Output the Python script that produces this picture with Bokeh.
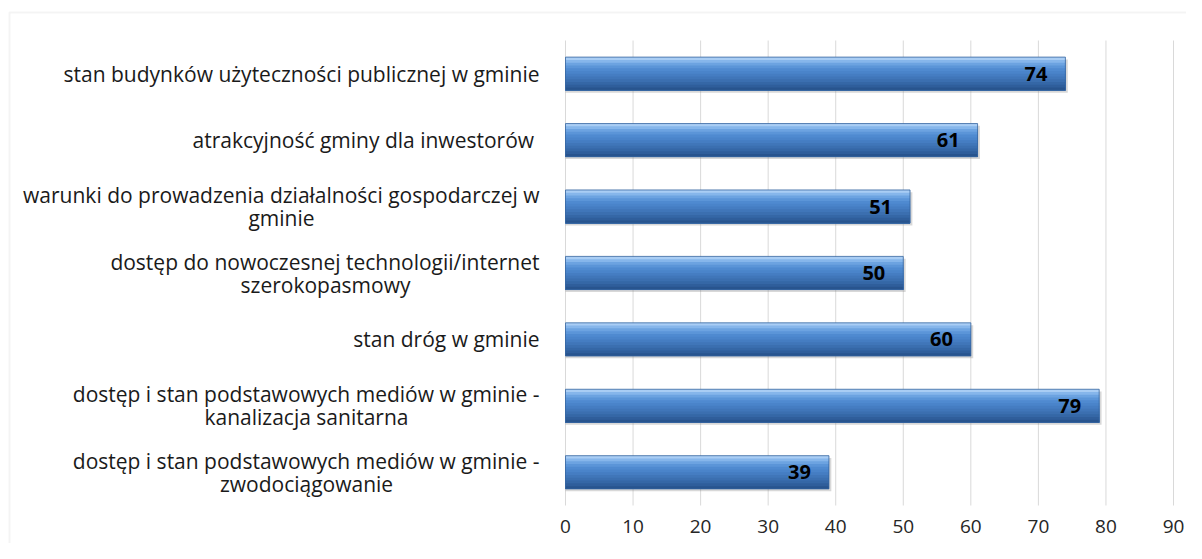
from bokeh.plotting import figure
from bokeh.models import Range1d, BoxAnnotation
from bokeh.core.properties import value
from bokeh.embed import file_html
from bokeh.resources import INLINE

# ---------------- data ----------------
categories = [
    "stan budynków użyteczności publicznej w gminie",
    "atrakcyjność gminy dla inwestorów ",
    "warunki do prowadzenia działalności gospodarczej w gminie",
    "dostęp do nowoczesnej technologii/internet szerokopasmowy",
    "stan dróg w gminie",
    "dostęp i stan podstawowych mediów w gminie - kanalizacja sanitarna",
    "dostęp i stan podstawowych mediów w gminie - zwodociągowanie",
]
label_line1 = [
    "stan budynków użyteczności publicznej w gminie",
    "atrakcyjność gminy dla inwestorów ",
    "warunki do prowadzenia działalności gospodarczej w",
    "dostęp do nowoczesnej technologii/internet",
    "stan dróg w gminie",
    "dostęp i stan podstawowych mediów w gminie -",
    "dostęp i stan podstawowych mediów w gminie -",
]
label_line2 = ["", "", "gminie", "szerokopasmowy", "", "kanalizacja sanitarna", "zwodociągowanie"]
values = [74, 61, 51, 50, 60, 79, 39]
x_ticks = [0, 10, 20, 30, 40, 50, 60, 70, 80, 90]

# ---------------- layout constants (screen px) ----------------
FONT = "Open Sans"
LABEL_SIZE = "21px"
W, H = 1186, 543
X0_PX = 565          # where value 0 sits, from canvas left
X90_PX = 1173        # where value 90 sits
GRID_TOP = 40        # top of category band area, from canvas top
GRID_BOT = 505       # bottom of category band area
BORDER_LEFT = 9
BORDER_TOP = 12
LABEL_GAP = 26
LINE_HALF = 11.5
TICK_LABEL_OFFSET = 21
# approximate widths of first lines of wrapped labels (for centring second lines)
LINE1_W = [0, 0, 516, 428, 0, 466, 466]

n = len(categories)
kx = (X90_PX - X0_PX) / (x_ticks[-1] - x_ticks[0])
x_start = -X0_PX / kx
x_end = x_start + W / kx
ky = (GRID_BOT - GRID_TOP) / n
y_top_band = n - 0.5
y_bot_band = -0.5
y_end = y_top_band + GRID_TOP / ky
y_start = y_bot_band - (H - GRID_BOT) / ky

ypos = [n - 1 - i for i in range(n)]

p = figure(width=W, height=H, x_range=Range1d(x_start, x_end), y_range=Range1d(y_start, y_end),
           output_backend="svg", toolbar_location=None,
           min_border_left=0, min_border_right=0, min_border_top=0, min_border_bottom=0)
p.axis.visible = False
p.grid.visible = False
p.outline_line_color = None
p.background_fill_color = "white"
p.border_fill_color = "white"

# chart border (left and top visible in the crop)
p.add_layout(BoxAnnotation(left=x_start + BORDER_LEFT / kx, right=x_end + 50,
                           top=y_end - BORDER_TOP / ky, bottom=y_start - 50,
                           fill_color=None, line_color="#d9d9d9", line_width=2))

# vertical gridlines
p.segment(x0=x_ticks, x1=x_ticks, y0=[y_bot_band] * len(x_ticks), y1=[y_top_band] * len(x_ticks),
          line_color="#d9d9d9", line_width=1)

# tick labels
p.text(x=x_ticks, y=[y_bot_band] * len(x_ticks), text=[str(t) for t in x_ticks],
       y_offset=TICK_LABEL_OFFSET, text_align="center", text_baseline="middle",
       text_font=value(FONT), text_font_size="19px", text_color="#262626")

BAR_H = 0.5
# drop shadow
p.hbar(y=[y - 0.035 for y in ypos], right=[v + 0.35 for v in values], left=0, height=BAR_H,
       fill_color="#7f7f7f", fill_alpha=0.3, line_color=None)
# gradient stripes (top -> bottom), each painted from its top to the bar bottom
stripes = ["#a9cdf4", "#86b6eb", "#6ca3e1", "#5b95d8", "#4f8ad0", "#4a84ca", "#457dc2",
           "#4076b9", "#3b6fb0", "#3567a6", "#2f5e9b", "#28548e"]
ns = len(stripes)
sh = BAR_H / ns
for i, col in enumerate(stripes):
    top = BAR_H / 2 - sh * i
    hh = BAR_H - sh * i
    p.hbar(y=[y + top - hh / 2 for y in ypos], right=values, left=0, height=hh,
           fill_color=col, line_color=None)
# outline
p.hbar(y=ypos, right=values, left=0, height=BAR_H,
       fill_color=None, line_color="#3565a0", line_width=0.8)

# value labels
p.text(x=values, y=ypos, text=[str(v) for v in values], x_offset=-18,
       text_align="right", text_baseline="middle",
       text_font=value(FONT), text_font_style="bold", text_font_size="20px",
       text_color="black")

# category labels
l1_off = [(-LINE_HALF if l2 else 0) for l2 in label_line2]
p.text(x=[0] * n, y=ypos, text=label_line1, x_offset=-LABEL_GAP, y_offset=l1_off,
       text_align="right", text_baseline="middle",
       text_font=value(FONT), text_font_size=LABEL_SIZE, text_color="#1a1a1a")
idx2 = [i for i in range(n) if label_line2[i]]
p.text(x=[0] * len(idx2), y=[ypos[i] for i in idx2], text=[label_line2[i] for i in idx2],
       x_offset=[-(LABEL_GAP + LINE1_W[i] / 2) for i in idx2], y_offset=LINE_HALF,
       text_align="center", text_baseline="middle",
       text_font=value(FONT), text_font_size=LABEL_SIZE, text_color="#1a1a1a")

open("out.html", "w").write(file_html(p, INLINE))
